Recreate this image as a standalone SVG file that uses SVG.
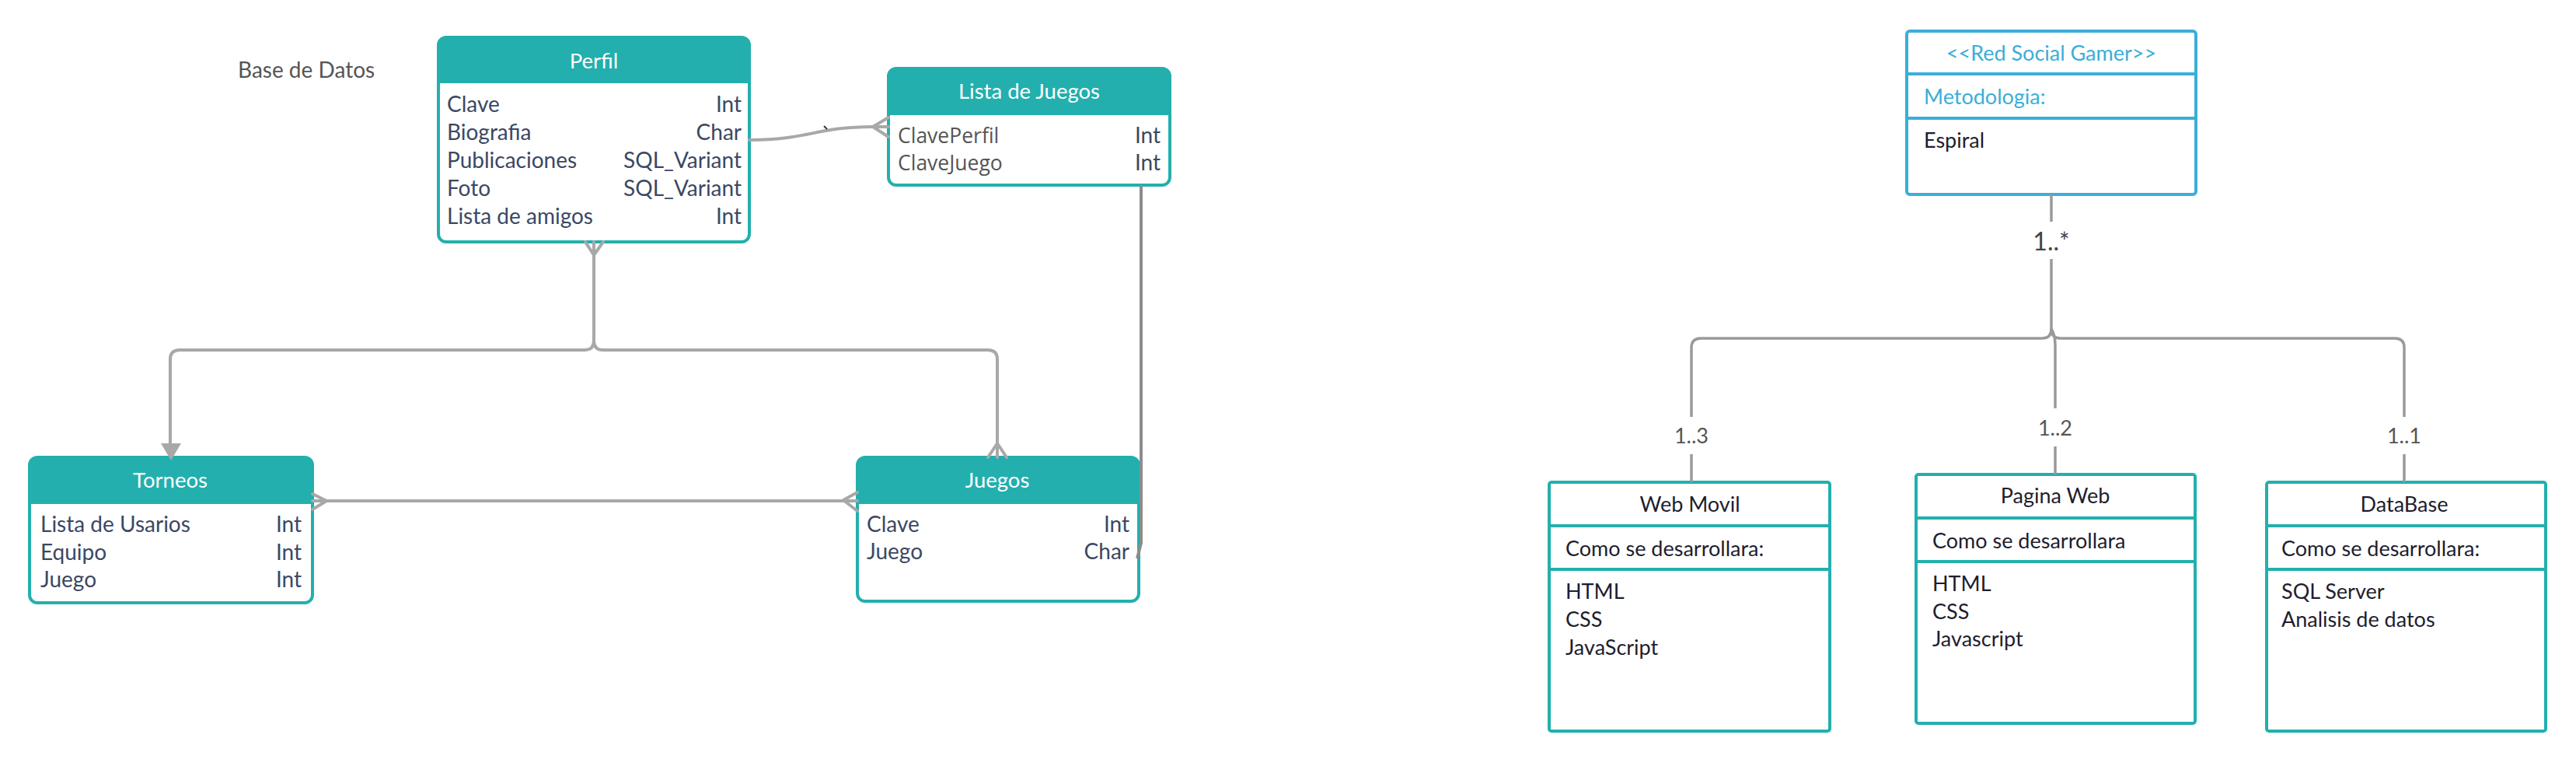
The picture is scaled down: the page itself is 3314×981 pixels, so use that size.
<svg xmlns="http://www.w3.org/2000/svg" width="3314" height="981" viewBox="0 0 3314 981">
<style>
.er{fill:#ffffff;stroke:#23afad;stroke-width:4}
.hd{fill:#23afad}
.ttl{font-family:Lato,"Liberation Sans",sans-serif;font-size:27.5px;fill:#ffffff;text-anchor:middle}
.row{font-family:Lato,"Liberation Sans",sans-serif;font-size:28px;fill:#3b4863}
.rt{text-anchor:end}
.os{font-family:"Open Sans","Liberation Sans",sans-serif;font-size:26.5px;fill:#555555}
.cn{fill:none;stroke:#a8a8a8;stroke-width:4;stroke-linecap:round;stroke-linejoin:round}
.cd{fill:none;stroke:#8c8c8c;stroke-width:4}
.um{fill:#ffffff;stroke:#23afad;stroke-width:4}
.ub{fill:#ffffff;stroke:#3aaed8;stroke-width:4}
.ut{font-family:Lato,"Liberation Sans",sans-serif;font-size:27px;fill:#1e1e2e}
.lb{font-family:Lato,"Liberation Sans",sans-serif;font-size:27px;fill:#555555;text-anchor:middle}
.uc{fill:none;stroke:#9a9a9a;stroke-width:3.5}
</style>

<g id="label-base">
<text x="306" y="100" style="font-family:Lato,'Liberation Sans',sans-serif;font-size:28px;fill:#555555">Base de Datos</text>
</g>

<g id="perfil">
<rect class="er" x="564" y="48" width="400" height="263" rx="10"/>
<path class="hd" d="M574,48 H954 Q964,48 964,58 V107 H564 V58 Q564,48 574,48 Z"/>
<text class="ttl" x="764" y="88">Perfil</text>
<text class="row" x="575" y="144">Clave</text><text class="row rt" x="954" y="144">Int</text>
<text class="row" x="575" y="180">Biografia</text><text class="row rt" x="954" y="180">Char</text>
<text class="row" x="575" y="216">Publicaciones</text><text class="row rt" x="954" y="216">SQL_Variant</text>
<text class="row" x="575" y="252">Foto</text><text class="row rt" x="954" y="252">SQL_Variant</text>
<text class="row" x="575" y="288">Lista de amigos</text><text class="row rt" x="954" y="288">Int</text>
</g>

<g id="lista-juegos">
<rect class="er" x="1143" y="88" width="362" height="150" rx="10"/>
<path class="hd" d="M1153,88 H1495 Q1505,88 1505,98 V148 H1143 V98 Q1143,88 1153,88 Z"/>
<text class="ttl" x="1324" y="127">Lista de Juegos</text>
<text class="os" x="1155" y="184">ClavePerfil</text><text class="row rt" x="1493" y="184">Int</text>
<text class="os" x="1155" y="219">ClaveJuego</text><text class="row rt" x="1493" y="219">Int</text>
</g>

<g id="torneos">
<rect class="er" x="38" y="588" width="364" height="187" rx="10"/>
<path class="hd" d="M48,588 H392 Q402,588 402,598 V648 H38 V598 Q38,588 48,588 Z"/>
<text class="ttl" x="219" y="627">Torneos</text>
<text class="row" x="52" y="684">Lista de Usarios</text><text class="row rt" x="388" y="684">Int</text>
<text class="row" x="52" y="720">Equipo</text><text class="row rt" x="388" y="720">Int</text>
<text class="row" x="52" y="755">Juego</text><text class="row rt" x="388" y="755">Int</text>
</g>

<g id="juegos">
<rect class="er" x="1103" y="588" width="362" height="185" rx="10"/>
<path class="hd" d="M1113,588 H1455 Q1465,588 1465,598 V648 H1103 V598 Q1103,588 1113,588 Z"/>
<text class="ttl" x="1283" y="627">Juegos</text>
<text class="row" x="1115" y="684">Clave</text><text class="row rt" x="1453" y="684">Int</text>
<text class="row" x="1115" y="719">Juego</text><text class="row rt" x="1453" y="719">Char</text>
</g>

<g id="red-social-gamer">
<rect class="ub" x="2453" y="40" width="372" height="210" rx="4"/>
<line x1="2453" y1="95" x2="2825" y2="95" stroke="#3aaed8" stroke-width="4"/>
<line x1="2453" y1="152" x2="2825" y2="152" stroke="#3aaed8" stroke-width="4"/>
<text x="2639" y="78" style="font-family:Lato,'Liberation Sans',sans-serif;font-size:27px;fill:#3aaed8;text-anchor:middle">&lt;&lt;Red Social Gamer&gt;&gt;</text>
<text x="2475" y="134" style="font-family:Lato,'Liberation Sans',sans-serif;font-size:27px;fill:#3aaed8">Metodologia:</text>
<text class="ut" x="2475" y="190">Espiral</text>
</g>

<g id="web-movil">
<rect class="um" x="1993" y="620" width="361" height="320" rx="3"/>
<line x1="1993" y1="676" x2="2354" y2="676" stroke="#23afad" stroke-width="4"/>
<line x1="1993" y1="732" x2="2354" y2="732" stroke="#23afad" stroke-width="4"/>
<text class="ut" x="2174" y="658" text-anchor="middle">Web Movil</text>
<text class="ut" x="2014" y="715">Como se desarrollara:</text>
<text class="ut" x="2014" y="770">HTML</text>
<text class="ut" x="2014" y="806">CSS</text>
<text class="ut" x="2014" y="842">JavaScript</text>
</g>

<g id="pagina-web">
<rect class="um" x="2465" y="610" width="359" height="320" rx="3"/>
<line x1="2465" y1="666" x2="2824" y2="666" stroke="#23afad" stroke-width="4"/>
<line x1="2465" y1="722" x2="2824" y2="722" stroke="#23afad" stroke-width="4"/>
<text class="ut" x="2644" y="647" text-anchor="middle">Pagina Web</text>
<text class="ut" x="2486" y="705">Como se desarrollara</text>
<text class="ut" x="2486" y="760">HTML</text>
<text class="ut" x="2486" y="796">CSS</text>
<text class="ut" x="2486" y="831">Javascript</text>
</g>

<g id="database">
<rect class="um" x="2916" y="620" width="359" height="320" rx="3"/>
<line x1="2916" y1="676" x2="3275" y2="676" stroke="#23afad" stroke-width="4"/>
<line x1="2916" y1="732" x2="3275" y2="732" stroke="#23afad" stroke-width="4"/>
<text class="ut" x="3093" y="658" text-anchor="middle">DataBase</text>
<text class="ut" x="2935" y="715">Como se desarrollara:</text>
<text class="ut" x="2935" y="770">SQL Server</text>
<text class="ut" x="2935" y="806">Analisis de datos</text>
</g>

<g id="connectors">
<!-- Perfil to Lista de Juegos -->
<path class="cn" d="M964,180 C1040,180 1050,163 1123,163 H1143"/>
<path class="cn" d="M1143,151 L1123,163 L1143,176"/>
<line x1="1060" y1="162" x2="1064" y2="166" stroke="#333" stroke-width="2"/>
<!-- Perfil down branch -->
<path class="cn" d="M753,311 L764,328 L776,311 M764,311 V328"/>
<path class="cn" d="M764,328 V438 Q764,450 752,450 H231 Q219,450 219,462 V572"/>
<path class="cn" d="M764,438 Q764,450 776,450 H1271 Q1283,450 1283,462 V570"/>
<path d="M207,570 L233,570 L220,592 Z" fill="#a8a8a8"/>
<path class="cn" d="M1271,588 L1283,570 L1295,588 M1283,570 V588"/>
<!-- Torneos to Juegos -->
<path class="cn" d="M402,644 H1103"/>
<path class="cn" d="M402,635 L420,644 L402,655"/>
<path class="cn" d="M1103,633 L1085,643 L1103,657"/>
<!-- Lista de Juegos to Juegos -->
<path class="cd" d="M1468,238 V698 L1463,718"/>
<!-- UML -->
<path class="uc" d="M2639,250 V285 M2639,333 V423 Q2639,435 2627,435 H2188 Q2176,435 2176,447 V536 M2176,584 V620"/>
<path class="uc" d="M2639,423 Q2639,435 2651,435 H3081 Q3093,435 3093,447 V536 M3093,584 V620"/>
<path class="uc" d="M2639,423 Q2644,430 2644,445 V525 M2644,574 V610"/>
<text x="2639" y="322" style="font-family:Lato,'Liberation Sans',sans-serif;font-size:32px;fill:#444444;text-anchor:middle">1..*</text>
<text class="lb" x="2176" y="570">1..3</text>
<text class="lb" x="2644" y="560">1..2</text>
<text class="lb" x="3093" y="570">1..1</text>
</g>
</svg>
